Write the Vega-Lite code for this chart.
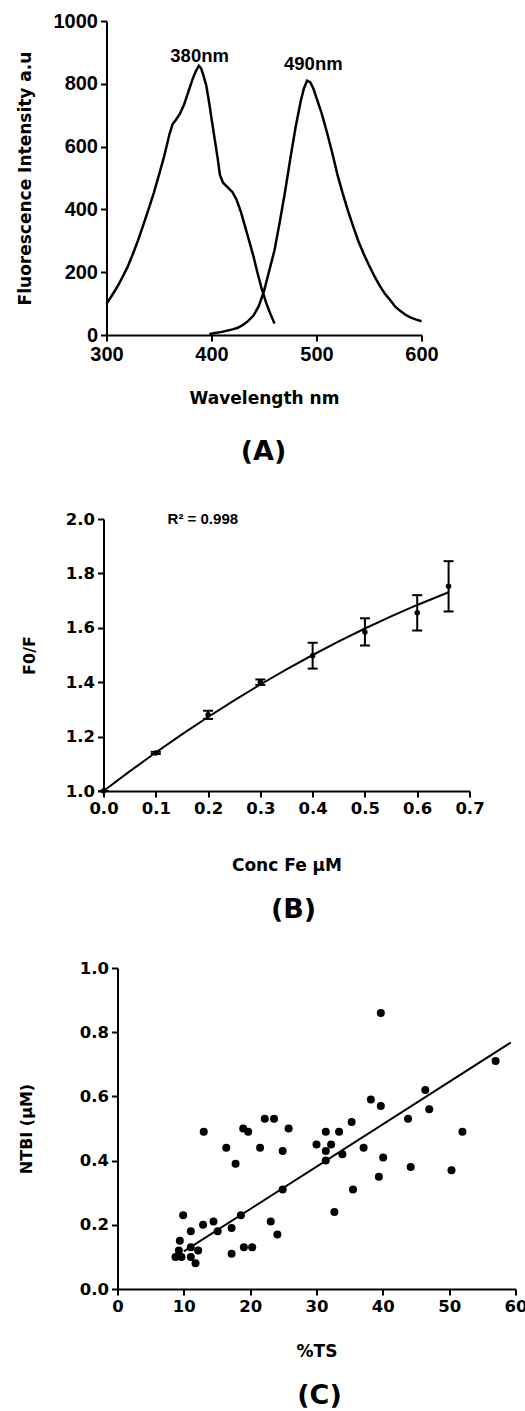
{
  "$schema": "https://vega.github.io/schema/vega-lite/v6.json",
  "background": "white",
  "padding": {"left": 15.5, "top": 11, "right": 2, "bottom": 5},
  "config": {
    "view": {"stroke": null},
    "axis": {
      "grid": false, "domainColor": "black", "domainWidth": 2, "tickColor": "black", "tickWidth": 2, "tickSize": 6,
      "labelColor": "black", "titleColor": "black", "labelPadding": 3, "labelFlush": false, "labelOverlap": false,
      "labelFont": "DejaVu Sans", "labelFontSize": 16.5, "labelFontWeight": "bold",
      "titleFont": "DejaVu Sans", "titleFontSize": 17, "titleFontWeight": "bold"
    },
    "title": {"color": "black"}
  },
  "datasets": {
    "spectra": [
      {"s": "ex", "wl": 300, "v": 99}, {"s": "ex", "wl": 305, "v": 125}, {"s": "ex", "wl": 310, "v": 152}, {"s": "ex", "wl": 315, "v": 183},
      {"s": "ex", "wl": 320, "v": 216}, {"s": "ex", "wl": 325, "v": 257}, {"s": "ex", "wl": 330, "v": 301}, {"s": "ex", "wl": 335, "v": 350},
      {"s": "ex", "wl": 340, "v": 400}, {"s": "ex", "wl": 345, "v": 452}, {"s": "ex", "wl": 350, "v": 510}, {"s": "ex", "wl": 355, "v": 570},
      {"s": "ex", "wl": 360, "v": 640}, {"s": "ex", "wl": 363, "v": 672}, {"s": "ex", "wl": 366, "v": 685}, {"s": "ex", "wl": 370, "v": 705},
      {"s": "ex", "wl": 374, "v": 735}, {"s": "ex", "wl": 378, "v": 775}, {"s": "ex", "wl": 382, "v": 815}, {"s": "ex", "wl": 385, "v": 840},
      {"s": "ex", "wl": 388, "v": 857}, {"s": "ex", "wl": 390, "v": 850}, {"s": "ex", "wl": 392, "v": 830}, {"s": "ex", "wl": 395, "v": 795},
      {"s": "ex", "wl": 398, "v": 735}, {"s": "ex", "wl": 400, "v": 690}, {"s": "ex", "wl": 403, "v": 625}, {"s": "ex", "wl": 406, "v": 560},
      {"s": "ex", "wl": 408, "v": 510}, {"s": "ex", "wl": 411, "v": 485}, {"s": "ex", "wl": 415, "v": 472}, {"s": "ex", "wl": 420, "v": 455},
      {"s": "ex", "wl": 424, "v": 430}, {"s": "ex", "wl": 428, "v": 392}, {"s": "ex", "wl": 432, "v": 345}, {"s": "ex", "wl": 436, "v": 298},
      {"s": "ex", "wl": 440, "v": 250}, {"s": "ex", "wl": 444, "v": 195}, {"s": "ex", "wl": 448, "v": 145}, {"s": "ex", "wl": 452, "v": 103},
      {"s": "ex", "wl": 456, "v": 68}, {"s": "ex", "wl": 460, "v": 37},
      {"s": "em", "wl": 398, "v": 3}, {"s": "em", "wl": 405, "v": 7}, {"s": "em", "wl": 410, "v": 10}, {"s": "em", "wl": 415, "v": 14},
      {"s": "em", "wl": 420, "v": 18}, {"s": "em", "wl": 425, "v": 23}, {"s": "em", "wl": 430, "v": 32}, {"s": "em", "wl": 435, "v": 45},
      {"s": "em", "wl": 440, "v": 62}, {"s": "em", "wl": 445, "v": 92}, {"s": "em", "wl": 450, "v": 140}, {"s": "em", "wl": 455, "v": 205},
      {"s": "em", "wl": 460, "v": 270}, {"s": "em", "wl": 465, "v": 360}, {"s": "em", "wl": 470, "v": 455}, {"s": "em", "wl": 475, "v": 560},
      {"s": "em", "wl": 480, "v": 660}, {"s": "em", "wl": 485, "v": 745}, {"s": "em", "wl": 488, "v": 785}, {"s": "em", "wl": 491, "v": 810},
      {"s": "em", "wl": 494, "v": 805}, {"s": "em", "wl": 497, "v": 785}, {"s": "em", "wl": 500, "v": 755}, {"s": "em", "wl": 505, "v": 705},
      {"s": "em", "wl": 510, "v": 645}, {"s": "em", "wl": 515, "v": 580}, {"s": "em", "wl": 520, "v": 510}, {"s": "em", "wl": 525, "v": 450},
      {"s": "em", "wl": 530, "v": 395}, {"s": "em", "wl": 535, "v": 345}, {"s": "em", "wl": 540, "v": 298}, {"s": "em", "wl": 545, "v": 258},
      {"s": "em", "wl": 550, "v": 222}, {"s": "em", "wl": 555, "v": 188}, {"s": "em", "wl": 560, "v": 158}, {"s": "em", "wl": 565, "v": 132},
      {"s": "em", "wl": 570, "v": 112}, {"s": "em", "wl": 575, "v": 90}, {"s": "em", "wl": 580, "v": 76}, {"s": "em", "wl": 585, "v": 64},
      {"s": "em", "wl": 590, "v": 55}, {"s": "em", "wl": 595, "v": 49}, {"s": "em", "wl": 600, "v": 44}
    ],
    "peaks": [
      {"wl": 388.7, "v": 890, "label": "380nm"},
      {"wl": 497, "v": 862, "label": "490nm"}
    ],
    "fit": [
      {"c": 0, "f": 1.0}, {"c": 0.05, "f": 1.0721}, {"c": 0.1, "f": 1.1415}, {"c": 0.15, "f": 1.2081},
      {"c": 0.2, "f": 1.272}, {"c": 0.25, "f": 1.3331}, {"c": 0.3, "f": 1.3915}, {"c": 0.35, "f": 1.4471},
      {"c": 0.4, "f": 1.5}, {"c": 0.45, "f": 1.5501}, {"c": 0.5, "f": 1.5975}, {"c": 0.55, "f": 1.6421},
      {"c": 0.6, "f": 1.684}, {"c": 0.66, "f": 1.7306}
    ],
    "quench": [
      {"c": 0, "f": 1.0, "lo": 1.0, "hi": 1.0},
      {"c": 0.1, "f": 1.14, "lo": 1.136, "hi": 1.144},
      {"c": 0.2, "f": 1.28, "lo": 1.265, "hi": 1.295},
      {"c": 0.3, "f": 1.4, "lo": 1.39, "hi": 1.41},
      {"c": 0.4, "f": 1.497, "lo": 1.45, "hi": 1.545},
      {"c": 0.5, "f": 1.585, "lo": 1.535, "hi": 1.635},
      {"c": 0.6, "f": 1.655, "lo": 1.59, "hi": 1.72},
      {"c": 0.66, "f": 1.753, "lo": 1.66, "hi": 1.845}
    ],
    "r2": [{"c": 0.19, "f": 2.0, "label": "R² = 0.998"}],
    "ntbi": [
      {"ts": 8.74, "n": 0.10}, {"ts": 9.65, "n": 0.10}, {"ts": 9.4, "n": 0.15}, {"ts": 9.25, "n": 0.12}, {"ts": 9.9, "n": 0.23},
      {"ts": 11.05, "n": 0.18}, {"ts": 11.05, "n": 0.13}, {"ts": 11.05, "n": 0.10}, {"ts": 11.76, "n": 0.08}, {"ts": 12.16, "n": 0.12},
      {"ts": 12.9, "n": 0.20}, {"ts": 13.0, "n": 0.49}, {"ts": 14.47, "n": 0.21}, {"ts": 15.1, "n": 0.18}, {"ts": 16.4, "n": 0.44},
      {"ts": 17.2, "n": 0.19}, {"ts": 17.2, "n": 0.11}, {"ts": 17.8, "n": 0.39}, {"ts": 18.6, "n": 0.23}, {"ts": 18.95, "n": 0.50},
      {"ts": 19.7, "n": 0.49}, {"ts": 19.05, "n": 0.13}, {"ts": 20.3, "n": 0.13}, {"ts": 21.5, "n": 0.44}, {"ts": 22.2, "n": 0.53},
      {"ts": 23.6, "n": 0.53}, {"ts": 23.1, "n": 0.21}, {"ts": 24.1, "n": 0.17}, {"ts": 24.9, "n": 0.43}, {"ts": 24.9, "n": 0.31},
      {"ts": 25.8, "n": 0.50}, {"ts": 30.0, "n": 0.45}, {"ts": 39.7, "n": 0.86}, {"ts": 57.0, "n": 0.71}, {"ts": 46.4, "n": 0.62},
      {"ts": 38.2, "n": 0.59}, {"ts": 39.7, "n": 0.57}, {"ts": 47.0, "n": 0.56}, {"ts": 43.8, "n": 0.53}, {"ts": 35.3, "n": 0.52},
      {"ts": 31.4, "n": 0.49}, {"ts": 33.4, "n": 0.49}, {"ts": 52.0, "n": 0.49}, {"ts": 32.2, "n": 0.45}, {"ts": 31.4, "n": 0.43},
      {"ts": 37.1, "n": 0.44}, {"ts": 33.9, "n": 0.42}, {"ts": 31.4, "n": 0.40}, {"ts": 40.05, "n": 0.41}, {"ts": 44.2, "n": 0.38},
      {"ts": 50.35, "n": 0.37}, {"ts": 39.4, "n": 0.35}, {"ts": 35.5, "n": 0.31}, {"ts": 32.7, "n": 0.24}
    ],
    "reg": [{"ts": 10, "n": 0.117}, {"ts": 59.3, "n": 0.768}]
  },
  "align": "none",
  "columns": 1,
  "spacing": 46,
  "concat": [
    {
      "width": 318, "height": 314,
      "title": {"text": "(A)", "orient": "bottom", "frame": "group", "anchor": "middle", "font": "DejaVu Sans", "fontSize": 27, "fontWeight": "bold", "offset": 33, "dx": 1},
      "layer": [
        {
          "data": {"name": "spectra"},
          "mark": {"type": "line", "color": "black", "strokeWidth": 2.5},
          "encoding": {
            "x": {"field": "wl", "type": "quantitative", "scale": {"domain": [300, 600], "range": [3, 318], "nice": false, "zero": false},
                  "axis": {"values": [300, 400, 500, 600], "title": "Wavelength nm", "labelFont": "Liberation Sans", "labelFontSize": 20, "titlePadding": 26}},
            "y": {"field": "v", "type": "quantitative", "scale": {"domain": [0, 1000], "nice": false},
                  "axis": {"values": [0, 200, 400, 600, 800, 1000], "format": "d", "offset": -3, "title": "Fluorescence Intensity a.u", "labelFont": "Liberation Sans", "labelFontSize": 20, "titlePadding": 19}},
            "detail": {"field": "s", "type": "nominal"}
          }
        },
        {
          "data": {"name": "peaks"},
          "mark": {"type": "text", "font": "Liberation Sans", "fontSize": 18.5, "fontWeight": "bold", "color": "black", "baseline": "middle", "align": "center"},
          "encoding": {
            "x": {"field": "wl", "type": "quantitative"},
            "y": {"field": "v", "type": "quantitative"},
            "text": {"field": "label"}
          }
        }
      ]
    },
    {
      "align": "none",
      "columns": 1,
      "spacing": 37,
      "concat": [
        {
          "width": 366, "height": 272,
          "title": {"text": "(B)", "orient": "bottom", "frame": "group", "anchor": "middle", "font": "DejaVu Sans", "fontSize": 27, "fontWeight": "bold", "offset": 23, "dx": 7},
          "layer": [
            {
              "data": {"name": "fit"},
              "mark": {"type": "line", "color": "black", "strokeWidth": 2},
              "encoding": {
                "x": {"field": "c", "type": "quantitative", "scale": {"domain": [0, 0.7], "nice": false, "zero": false},
                      "axis": {"values": [0, 0.1, 0.2, 0.3, 0.4, 0.5, 0.6, 0.7], "format": ".1f", "title": "Conc Fe µM", "titlePadding": 41}},
                "y": {"field": "f", "type": "quantitative", "scale": {"domain": [1, 2], "nice": false, "zero": false},
                      "axis": {"values": [1.0, 1.2, 1.4, 1.6, 1.8, 2.0], "format": ".1f", "title": "F0/F", "titleFontSize": 16, "titlePadding": 28}}
              }
            },
            {
              "data": {"name": "quench"},
              "mark": {"type": "rule", "color": "black", "strokeWidth": 2},
              "encoding": {
                "x": {"field": "c", "type": "quantitative"},
                "y": {"field": "lo", "type": "quantitative"},
                "y2": {"field": "hi"}
              }
            },
            {
              "data": {"name": "quench"},
              "mark": {"type": "tick", "orient": "horizontal", "color": "black", "size": 10, "thickness": 2, "opacity": 1},
              "encoding": {
                "x": {"field": "c", "type": "quantitative"},
                "y": {"field": "lo", "type": "quantitative"}
              }
            },
            {
              "data": {"name": "quench"},
              "mark": {"type": "tick", "orient": "horizontal", "color": "black", "size": 10, "thickness": 2, "opacity": 1},
              "encoding": {
                "x": {"field": "c", "type": "quantitative"},
                "y": {"field": "hi", "type": "quantitative"}
              }
            },
            {
              "data": {"name": "quench"},
              "mark": {"type": "point", "filled": true, "color": "black", "size": 30, "opacity": 1, "shape": "circle"},
              "encoding": {
                "x": {"field": "c", "type": "quantitative"},
                "y": {"field": "f", "type": "quantitative"}
              }
            },
            {
              "data": {"name": "r2"},
              "mark": {"type": "text", "font": "Liberation Sans", "fontSize": 15, "fontWeight": "bold", "color": "black", "baseline": "middle", "align": "center"},
              "encoding": {
                "x": {"field": "c", "type": "quantitative"},
                "y": {"field": "f", "type": "quantitative"},
                "text": {"field": "label"}
              }
            }
          ]
        },
        {
          "width": 412, "height": 321,
          "title": {"text": "(C)", "orient": "bottom", "frame": "group", "anchor": "middle", "font": "DejaVu Sans", "fontSize": 27, "fontWeight": "bold", "offset": 23, "dx": 10},
          "layer": [
            {
              "data": {"name": "ntbi"},
              "mark": {"type": "point", "filled": true, "color": "black", "size": 64, "opacity": 1, "shape": "circle"},
              "encoding": {
                "x": {"field": "ts", "type": "quantitative", "scale": {"domain": [0, 60], "range": [14, 412], "nice": false, "zero": false},
                      "axis": {"values": [0, 10, 20, 30, 40, 50, 60], "title": "%TS", "titlePadding": 29}},
                "y": {"field": "n", "type": "quantitative", "scale": {"domain": [0, 1], "nice": false, "zero": false},
                      "axis": {"values": [0, 0.2, 0.4, 0.6, 0.8, 1.0], "format": ".1f", "offset": -14, "title": "NTBI (µM)", "titleFontSize": 16, "titlePadding": 45}}
              }
            },
            {
              "data": {"name": "reg"},
              "mark": {"type": "line", "color": "black", "strokeWidth": 2},
              "encoding": {
                "x": {"field": "ts", "type": "quantitative"},
                "y": {"field": "n", "type": "quantitative"}
              }
            }
          ]
        }
      ]
    }
  ]
}
